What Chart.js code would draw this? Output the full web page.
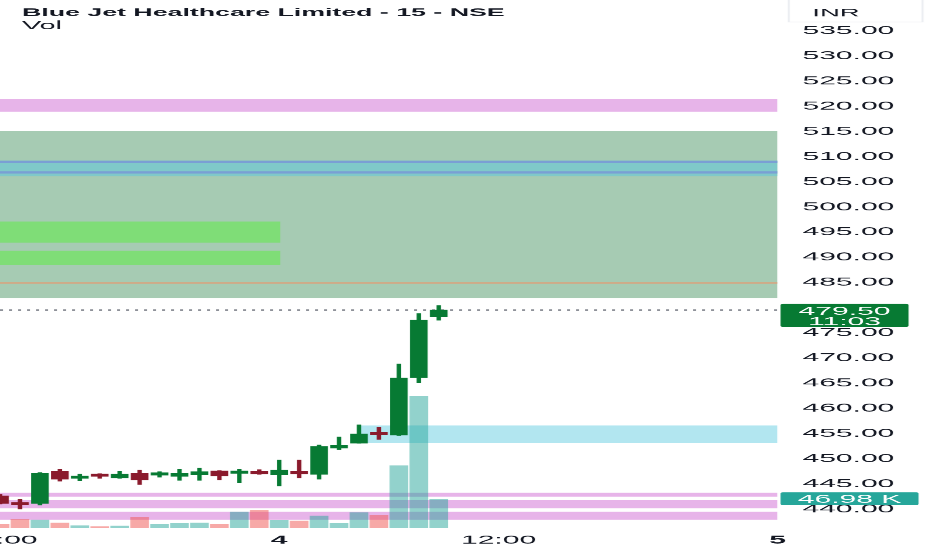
<!DOCTYPE html>
<html>
<head>
<meta charset="utf-8">
<title>Blue Jet Healthcare Limited - 15 - NSE</title>
<script src="https://cdn.jsdelivr.net/npm/chart.js@4.4.1/dist/chart.umd.min.js"></script>
<style>
  html, body { margin: 0; padding: 0; background: #fff; overflow: hidden; }
  /* the source screenshot is stretched sideways, so draw narrow and stretch */
  #wrap { width: 373px; height: 550px; transform: scaleX(2.49866); transform-origin: 0 0; }
</style>
</head>
<body>
<div id="wrap"><canvas id="chart"></canvas></div>
<script>
// 15 min candles, index 0 = 12:00 on the 3rd
var opens  = [442.6, 441.0, 441.15, 447.5, 446.1, 446.6, 446.2, 447.1, 446.75, 446.5, 446.8, 447.55,
              447.1, 447.2, 446.8, 447.2, 446.9, 452.1, 453.1, 455.0, 454.7, 466.1, 478.2];
var highs  = [442.9, 441.9, 447.2, 447.85, 446.9, 447.0, 447.5, 447.7, 447.4, 447.9, 448.1, 447.6,
              447.9, 447.8, 449.7, 449.7, 452.7, 454.3, 456.7, 456.2, 468.8, 478.8, 480.4];
var lows   = [441.0, 440.0, 440.8, 445.55, 445.6, 446.1, 446.1, 444.9, 446.35, 445.7, 445.7, 445.8,
              445.2, 446.9, 444.6, 446.2, 445.95, 451.8, 453.1, 453.85, 454.6, 465.1, 477.5];
var closes = [441.15, 440.85, 447.1, 445.95, 446.3, 446.5, 446.9, 445.8, 447.0, 447.05, 447.4, 446.6,
              447.4, 447.0, 447.7, 447.0, 452.4, 452.6, 454.9, 454.8, 466.0, 477.5, 479.5];
var volumes = [6060, 14240, 13100, 8180, 3770, 2130, 3270, 17510, 6060, 7690, 8180, 6060,
               26190, 28970, 12600, 11460, 19640, 7690, 25040, 20790, 101980, 215580, 46980];

// 480.00 sits under the last price tag, so it is not listed
var priceTicks = [440, 445, 450, 455, 460, 465, 470, 475, 485, 490, 495, 500, 505, 510, 515, 520, 525, 530, 535];
var timeTickIdx = [0, 14, 25, 39];
var timeTickLabels = ["12:00", "4", "12:00", "5"];
var countdown = "11:03";

// drawn zones: price from / to and candle index start / end
var zoneLow   = [518.9, 481.9, 506.1, 492.9, 488.5, 453.1, 442.45, 440.14, 437.87];
var zoneHigh  = [521.4, 515.1, 509.2, 497.1, 491.3, 456.6, 443.24, 441.79, 439.46];
var zoneStart = [-1, -1, -1, -1, -1, 18, -1, -1, -1];
var zoneEnd   = [40, 40, 40, 14.05, 14.05, 40, 40, 40, 40];
var zoneColors = ['#e7b4e9', '#a6cbb3', '#7fc9c9', '#7fdd77', '#7fdd77', '#b2e6f0', '#e7b4e9', '#e7b4e9', '#e7b4e9'];
var levels = [508.95, 506.85, 484.9];
var levelColors = ['#7a9fd4', '#7a9fd4', '#d8a47f'];

var UP = '#077a33', DOWN = '#8a1a2c';
var FONT = "'Liberation Sans', Arial, sans-serif";
var last = closes.length - 1;

function dirColor(i, up, down) { return closes[i] >= opens[i] ? up : down; }

var zonesPlugin = {
  id: 'zones',
  beforeDatasetsDraw: function (chart) {
    var ctx = chart.ctx, a = chart.chartArea, xs = chart.scales.x, ys = chart.scales.y;
    ctx.save();
    ctx.beginPath();
    ctx.rect(a.left, a.top, a.right - a.left, a.bottom - a.top);
    ctx.clip();
    for (var i = 0; i < zoneLow.length; i++) {
      var x1 = Math.max(a.left, xs.getPixelForValue(zoneStart[i]));
      var x2 = Math.min(a.right, xs.getPixelForValue(zoneEnd[i]));
      var y1 = ys.getPixelForValue(zoneHigh[i]), y2 = ys.getPixelForValue(zoneLow[i]);
      ctx.fillStyle = zoneColors[i];
      ctx.fillRect(x1, y1, x2 - x1, y2 - y1);
    }
    for (var j = 0; j < levels.length; j++) {
      var ly = ys.getPixelForValue(levels[j]);
      ctx.strokeStyle = levelColors[j];
      ctx.lineWidth = j < 2 ? 2.2 : 1.3;
      ctx.beginPath(); ctx.moveTo(a.left, ly); ctx.lineTo(a.right, ly); ctx.stroke();
    }
    // last price dotted line
    var py = ys.getPixelForValue(closes[last]);
    ctx.strokeStyle = '#8e9199';
    ctx.lineWidth = 1.6;
    ctx.setLineDash([1.2, 2.4]);
    ctx.beginPath(); ctx.moveTo(a.left, py); ctx.lineTo(a.right, py); ctx.stroke();
    ctx.restore();
  }
};

function roundRect(ctx, x, y, w, h, r) {
  ctx.beginPath();
  ctx.moveTo(x + r, y);
  ctx.arcTo(x + w, y, x + w, y + h, r);
  ctx.arcTo(x + w, y + h, x, y + h, r);
  ctx.arcTo(x, y + h, x, y, r);
  ctx.arcTo(x, y, x + w, y, r);
  ctx.closePath();
  ctx.fill();
}

var labelsPlugin = {
  id: 'labels',
  afterDraw: function (chart) {
    var ctx = chart.ctx, a = chart.chartArea, ys = chart.scales.y, vs = chart.scales.yv;
    ctx.save();
    // header
    ctx.fillStyle = '#131722';
    ctx.textAlign = 'left';
    ctx.textBaseline = 'alphabetic';
    ctx.font = 'bold 10.7px ' + FONT;
    ctx.fillText('Blue Jet Healthcare Limited - 15 - NSE', 8.8, 16);
    ctx.font = '11.5px ' + FONT;
    ctx.fillText('Vol', 8.8, 29.3);
    // currency box
    ctx.strokeStyle = '#eceef2';
    ctx.lineWidth = 0.8;
    ctx.strokeRect(a.right + 4.5, -2, 53.5, 24);
    ctx.textAlign = 'center';
    ctx.textBaseline = 'middle';
    ctx.font = '11px ' + FONT;
    ctx.fillText('INR', a.right + 23.4, 13.2);
    // last price tag
    var py = ys.getPixelForValue(closes[last]);
    var bx = a.right + 1.2, bw = 51.2;
    ctx.fillStyle = UP;
    roundRect(ctx, bx, py - 6.2, bw, 23, 1.2);
    ctx.fillStyle = '#fff';
    ctx.font = '12px ' + FONT;
    ctx.fillText(closes[last].toFixed(2), bx + bw / 2, py + 1.2);
    ctx.fillText(countdown, bx + bw / 2, py + 11.8);
    // last volume tag
    var vy = vs.getPixelForValue(volumes[last]);
    var vw = 55.2;
    ctx.fillStyle = '#26a69a';
    roundRect(ctx, bx, vy - 7, vw, 12.8, 1.2);
    ctx.fillStyle = '#fff';
    ctx.fillText((volumes[last] / 1000).toFixed(2) + ' K', bx + vw / 2, vy + 0.3);
    ctx.restore();
  }
};

var idx = closes.map(function (c, i) { return i; });

new Chart(document.getElementById('chart'), {
  type: 'bar',
  data: {
    datasets: [
      {
        label: 'Volume',
        yAxisID: 'yv',
        data: idx.map(function (i) { return { x: i, y: volumes[i] }; }),
        backgroundColor: idx.map(function (i) { return dirColor(i, 'rgba(38,166,154,0.5)', 'rgba(239,83,80,0.5)'); }),
        barThickness: 6.8,
        grouped: false,
        clip: 0,
        order: 3
      },
      {
        label: 'Wick',
        data: idx.map(function (i) { return { x: i, y: [lows[i], highs[i]] }; }),
        backgroundColor: idx.map(function (i) { return dirColor(i, UP, DOWN); }),
        barThickness: 1.1,
        grouped: false,
        clip: 0,
        order: 2
      },
      {
        label: 'Body',
        data: idx.map(function (i) { return { x: i, y: [opens[i], closes[i]] }; }),
        backgroundColor: idx.map(function (i) { return dirColor(i, UP, DOWN); }),
        barThickness: 6.4,
        minBarLength: 2.2,
        grouped: false,
        clip: 0,
        order: 1
      }
    ]
  },
  options: {
    responsive: true,
    maintainAspectRatio: false,
    devicePixelRatio: 2.5,
    animation: false,
    events: [],
    layout: { padding: 0 },
    plugins: { legend: { display: false }, tooltip: { enabled: false }, title: { display: false } },
    scales: {
      x: {
        type: 'linear',
        min: 0,
        max: 38.99,
        offset: false,
        grid: { display: false, drawTicks: false },
        border: { display: false },
        ticks: {
          autoSkip: false,
          maxRotation: 0,
          padding: 5,
          color: '#131722',
          font: function (c) {
            var t = timeTickLabels[c.index] || '';
            return { family: FONT, size: 12, weight: t.length < 3 ? 'bold' : 'normal' };
          },
          callback: function (v, i) { return timeTickLabels[i]; }
        },
        afterBuildTicks: function (s) { s.ticks = timeTickIdx.map(function (v) { return { value: v }; }); },
        afterFit: function (s) { s.height = 22; s.paddingLeft = 0; s.paddingRight = 0; }
      },
      y: {
        position: 'right',
        min: 436.23,
        max: 541.09,
        grid: { display: false, drawTicks: false },
        border: { display: false },
        ticks: {
          padding: 10,
          color: '#131722',
          font: { family: FONT, size: 12 },
          callback: function (v) { return v.toFixed(2); }
        },
        afterBuildTicks: function (s) { s.ticks = priceTicks.map(function (v) { return { value: v }; }); },
        afterFit: function (s) { s.width = 62; s.paddingTop = 0; s.paddingBottom = 0; }
      },
      yv: {
        display: false,
        min: 0,
        max: 864200
      }
    }
  },
  plugins: [zonesPlugin, labelsPlugin]
});
</script>
</body>
</html>
